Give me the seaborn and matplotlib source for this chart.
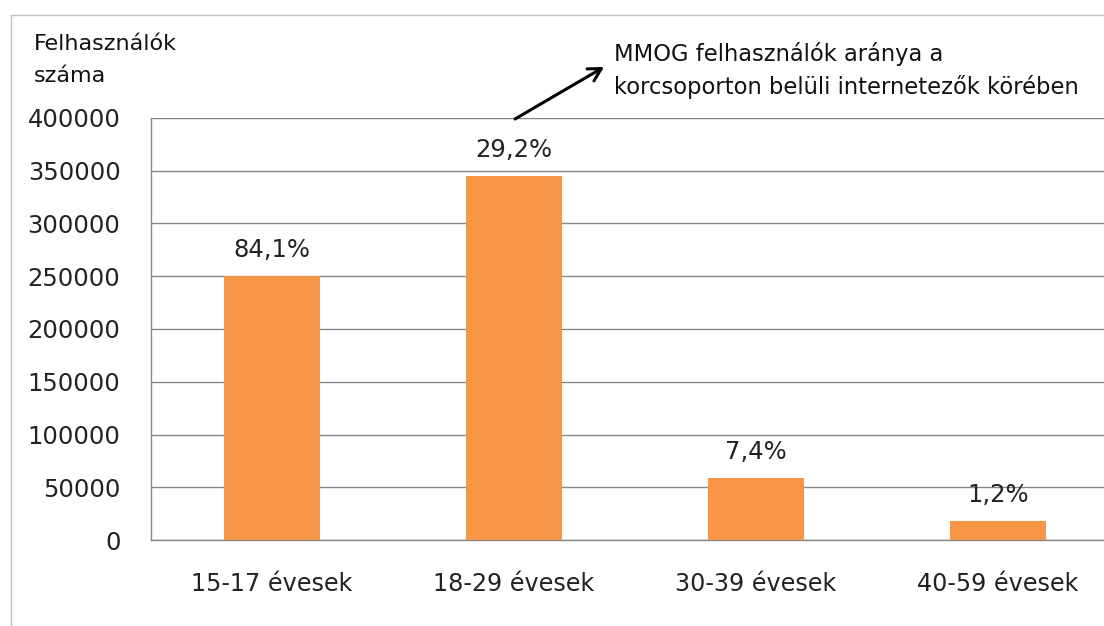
import matplotlib
matplotlib.use("Agg")
import matplotlib.pyplot as plt
import seaborn as sns
import pandas as pd
from matplotlib.patches import Rectangle, FancyArrowPatch

age_groups = ["15-17 évesek", "18-29 évesek", "30-39 évesek", "40-59 évesek"]
users = [250000, 345000, 58600, 18000]
share_labels = ["84,1%", "29,2%", "7,4%", "1,2%"]
y_ticks = [0, 50000, 100000, 150000, 200000, 250000, 300000, 350000, 400000]

sns.set_style("white")
plt.rcParams["font.family"] = ["DejaVu Sans"]

grid_gray = "#868686"
bar_color = "#F79646"
text_color = "#222222"

df = pd.DataFrame({"group": age_groups, "users": users})

fig = plt.figure(figsize=(11.04, 6.26), dpi=100)
# the plot area runs off the right edge in the original, so do the same here
ax = fig.add_axes([151 / 1104, 86 / 626, 968 / 1104, 422 / 626])

sns.barplot(data=df, x="group", y="users", color=bar_color, width=0.4,
            saturation=1, linewidth=0, ax=ax, zorder=3)

ax.set_ylim(0, 400000)
ax.set_xlim(-0.5, len(age_groups) - 0.5)
ax.set_yticks(y_ticks)
ax.set_yticklabels([str(v) for v in y_ticks])
ax.yaxis.grid(True, color=grid_gray, linewidth=1)
ax.set_axisbelow(True)

ax.set_xlabel("")
ax.set_ylabel("")
ax.set_xticks(range(len(age_groups)))
ax.set_xticklabels(age_groups)
ax.set_xticks([i - 0.5 for i in range(len(age_groups) + 1)], minor=True)
ax.tick_params(axis="x", which="major", length=0, pad=23, labelsize=17.2, colors=text_color)
ax.tick_params(axis="x", which="minor", length=8, width=1, color=grid_gray)
ax.tick_params(axis="y", length=8, width=1, color=grid_gray, labelsize=17.5,
               labelcolor=text_color, pad=14)

for side in ["top", "right"]:
    ax.spines[side].set_visible(False)
for side in ["left", "bottom"]:
    ax.spines[side].set_color(grid_gray)
    ax.spines[side].set_linewidth(1)

ax.bar_label(ax.containers[0], labels=share_labels, padding=10, fontsize=17.5,
             color=text_color)

# y axis title, top left
fig.text(34 / 1104, 1 - 50 / 626, "Felhasználók", fontsize=16, ha="left",
         va="baseline", color="#111111")
fig.text(34 / 1104, 1 - 82 / 626, "száma", fontsize=16, ha="left",
         va="baseline", color="#111111")

# note about the percentages
fig.text(614 / 1104, 1 - 61 / 626, "MMOG felhasználók aránya a",
         fontsize=16.3, ha="left", va="baseline", color="#111111")
fig.text(614 / 1104, 1 - 94 / 626, "korcsoporton belüli internetezők körében",
         fontsize=16.3, ha="left", va="baseline", color="#111111")
fig.add_artist(FancyArrowPatch(
    (515 / 1104, 1 - 119 / 626), (604 / 1104, 1 - 67 / 626),
    transform=fig.transFigure, arrowstyle="->,head_length=9,head_width=5",
    color="black", linewidth=2.2, shrinkA=0, shrinkB=0))

# outer chart frame, cut off at right and bottom like the original
fig.add_artist(Rectangle((11 / 1104, -0.1), 1.2, 1 - 15 / 626 + 0.1,
                         transform=fig.transFigure, fill=False,
                         edgecolor="#BFBFBF", linewidth=1))

fig.savefig("out.png", dpi=100)
